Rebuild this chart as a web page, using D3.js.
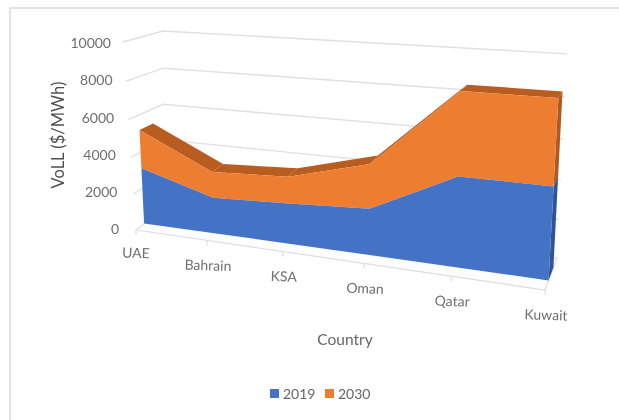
<!DOCTYPE html>
<html><head><meta charset="utf-8">
<script src="https://cdn.jsdelivr.net/npm/d3@7/dist/d3.min.js"></script>
<style>html,body{margin:0;padding:0;background:#fff}svg{display:block;filter:blur(0.5px)}text{font-family:Lato,"Open Sans",sans-serif}</style>
</head><body><div id="c"></div>
<script>
const categories = ["UAE","Bahrain","KSA","Oman","Qatar","Kuwait"];
const years = ["2019","2030"];
const values2019 = [3100,1950,2150,2400,4500,4500];
const values2030 = [2100,1400,1400,2250,4000,4000];
const valueTicks = [0,2000,4000,6000,8000,10000];
const colors = {"2019":"#4472c4","2030":"#ed7d31"};
const topColors = {"2019":"#2f5597","2030":"#b85c1f"};
const sideColors = {"2019":"#2f5597","2030":"#ae5a21"};

const W=619,H=420;
const svg=d3.select("#c").append("svg").attr("width",W).attr("height",H);

// 3D frame: category u, value t (0..1), depth z (0 floor front .. 1 back wall)
const uS=d3.scaleLinear().domain([0,categories.length-1]).range([0,1]);
const tS=d3.scaleLinear().domain([0,10000]).range([0,1]);
const zFront=0.3, zBack=0.7;
function project(i,v,z){
  const u=uS(i)*5, t=tS(v);
  const w=1-0.032*u-0.0536*t;
  const fx=(136+64.36*u-19.6*t)/w, fy=(230+2.72*u-190.25*t)/w;
  const a=u/5;
  const dx=(1-a)*((1-t)*27+t*40)+a*((1-t)*12+t*10);
  const dy=(1-a)*((1-t)*-22+t*-11)+a*((1-t)*-32+t*-14);
  return [fx+z*dx,fy+z*dy];
}
const poly=pts=>"M"+pts.map(p=>p[0].toFixed(1)+","+p[1].toFixed(1)).join("L")+"Z";
const lastI=categories.length-1;
const idx=d3.range(categories.length);
const gridC="#e0e0e0";

// frame: top and left edges only
svg.append("line").attr("x1",9.5).attr("y1",8).attr("x2",619).attr("y2",8).attr("stroke","#d8d8d8").attr("stroke-width",1.5);
svg.append("line").attr("x1",10).attr("y1",8).attr("x2",10).attr("y2",420).attr("stroke","#d8d8d8").attr("stroke-width",1.5);

// walls: gridlines
valueTicks.forEach(v=>{
  if(v>0){
  svg.append("path").attr("fill","none").attr("stroke",gridC).attr("stroke-width",1.4)
   .attr("d","M"+[project(0,v,0),project(0,v,1),project(lastI,v,1)].map(p=>p.join(",")).join("L"));
  }
});
// floor
svg.append("path").attr("fill","#fdfdfe").attr("stroke","#dcdce6").attr("stroke-width",1.2)
 .attr("d",poly([project(0,0,0),project(lastI,0,0),project(lastI,0,1),project(0,0,1)]));
idx.forEach(i=>{
  const p=project(i,0,0);
  svg.append("line").attr("x1",p[0]).attr("y1",p[1]).attr("x2",p[0]).attr("y2",p[1]+5).attr("stroke","#dcdce6").attr("stroke-width",1.2);
});

// stacked series
const stack=d3.stack().keys(years)(idx.map(i=>({"2019":values2019[i],"2030":values2030[i]})));
[1,0].forEach(s=>{
  const k=years[s], ser=stack[s];
  if(s===1){
    d3.pairs(idx).forEach(([a,b])=>{
      svg.append("path").attr("fill",topColors[k])
       .attr("d",poly([project(a,ser[a][1],zFront),project(b,ser[b][1],zFront),project(b,ser[b][1],zBack),project(a,ser[a][1],zBack)]));
    });
  }
  const e=ser[lastI];
  svg.append("path").attr("fill",sideColors[k])
    .attr("d",poly([project(lastI,e[0],zFront),project(lastI,e[1],zFront),project(lastI,e[1],zBack),project(lastI,e[0],zBack)]));
});
[1,0].forEach(s=>{
  const k=years[s], ser=stack[s];
  const up=idx.map(i=>project(i,ser[i][1],zFront));
  const lo=idx.map(i=>project(i,ser[i][0],zFront)).reverse();
  svg.append("path").attr("fill",colors[k]).attr("d",poly(up.concat(lo)));
});

// value labels
const tickColor="#6f6f6f";
const yLabel=d3.scaleLinear().domain([0,10000]).range([229.5,43]);
const xLabel=d3.scaleLinear().domain([0,10000]).range([119,111]);
valueTicks.forEach(v=>{
  svg.append("text").attr("x",xLabel(v)).attr("y",yLabel(v)).attr("dy","0.35em")
   .attr("text-anchor","end").attr("font-size",14).attr("fill",tickColor).text(v);
});
// category labels
categories.forEach((c,i)=>{
  const p=project(i,0,0);
  const tx=p[0]+(i===0?0:1), ty=p[1]+ (i===0?23:25);
  svg.append("text").attr("transform",`translate(${tx},${ty}) rotate(2)`).attr("text-anchor","middle")
   .attr("dy","0.35em").attr("font-size",14).attr("fill",tickColor).text(c);
});
// axis titles
svg.append("text").attr("transform","translate(58,135) rotate(-90)").attr("text-anchor","middle").attr("dy","0.35em")
 .attr("font-size",16.5).attr("fill","#505050").text("VoLL ($/MWh)");
svg.append("text").attr("x",345).attr("y",340).attr("text-anchor","middle").attr("dy","0.35em")
 .attr("font-size",15.5).attr("fill","#666").text("Country");
// legend
const legX=d3.scaleOrdinal().domain(years).range([270,325]);
years.forEach(y=>{
  svg.append("rect").attr("x",legX(y)).attr("y",389).attr("width",9).attr("height",9).attr("fill",colors[y]);
  svg.append("text").attr("x",legX(y)+13).attr("y",394).attr("dy","0.35em").attr("font-size",14).attr("fill","#666").text(y);
});
</script></body></html>
